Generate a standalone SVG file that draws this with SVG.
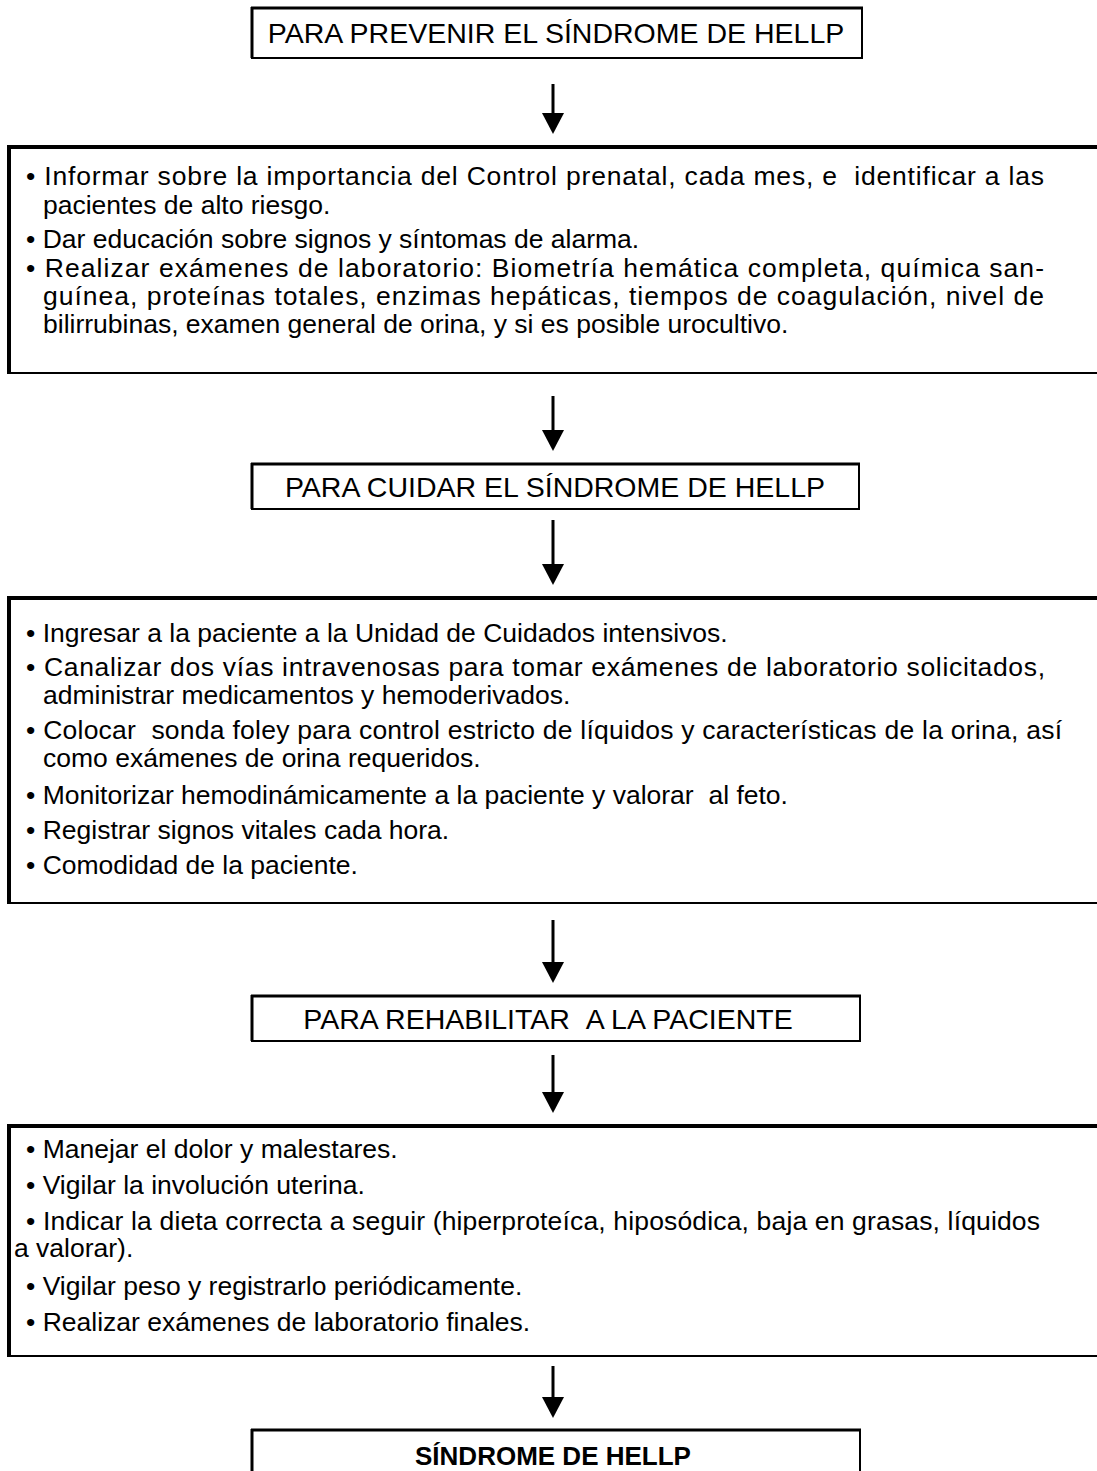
<svg xmlns="http://www.w3.org/2000/svg" width="1097" height="1471" viewBox="0 0 1097 1471">
<style>
.bg{fill:#fff}
.box{fill:#fff;stroke:#000;stroke-width:2}
.thk{stroke:#000;stroke-width:4;fill:none}
.thk2{stroke:#000;stroke-width:3;fill:none}
.t{font-family:"Liberation Sans",Arial,sans-serif;font-size:26.5px;fill:#000}
.h{font-family:"Liberation Sans",Arial,sans-serif;font-size:28.5px;fill:#000;text-anchor:middle}
.hb{font-family:"Liberation Sans",Arial,sans-serif;font-size:26px;font-weight:bold;fill:#000;text-anchor:middle}
.shaft{stroke:#000;stroke-width:3;fill:none}
.head{fill:#000}
</style>
<rect class="bg" x="0" y="0" width="1097" height="1471"/>

<g id="connectors">
  <line class="shaft" x1="553" y1="84" x2="553" y2="116"/><polygon class="head" points="542,113 564,113 553,134"/>
  <line class="shaft" x1="553" y1="396" x2="553" y2="433"/><polygon class="head" points="542,430 564,430 553,451"/>
  <line class="shaft" x1="553" y1="520" x2="553" y2="567"/><polygon class="head" points="542,564 564,564 553,585"/>
  <line class="shaft" x1="553" y1="920" x2="553" y2="965"/><polygon class="head" points="542,962 564,962 553,983"/>
  <line class="shaft" x1="553" y1="1055" x2="553" y2="1095"/><polygon class="head" points="542,1092 564,1092 553,1113"/>
  <line class="shaft" x1="553" y1="1366" x2="553" y2="1400"/><polygon class="head" points="542,1397 564,1397 553,1418"/>
</g>

<g id="prevenir">
  <rect class="box" x="252" y="8" width="610" height="50" stroke-width="1.5"/>
  <line class="thk2" x1="251" y1="8" x2="863" y2="8"/>
  <line class="thk2" x1="252" y1="7" x2="252" y2="58" stroke-width="2.5"/>
  <text class="h" x="556" y="43">PARA PREVENIR EL SÍNDROME DE HELLP</text>
</g>

<g id="prevenir-acciones">
  <rect class="box" x="9" y="147" width="1100" height="226"/>
  <line class="thk" x1="7" y1="147" x2="1097" y2="147"/>
  <line class="thk" x1="9" y1="145" x2="9" y2="374"/>
  <text class="t" x="26" y="185" textLength="1018" lengthAdjust="spacing">• Informar sobre la importancia del Control prenatal, cada mes, e &#160;identificar a las</text>
  <text class="t" x="43" y="214">pacientes de alto riesgo.</text>
  <text class="t" x="26" y="248">• Dar educación sobre signos y síntomas de alarma.</text>
  <text class="t" x="26" y="277" textLength="1018" lengthAdjust="spacing">• Realizar exámenes de laboratorio: Biometría hemática completa, química san-</text>
  <text class="t" x="43" y="305" textLength="1001" lengthAdjust="spacing">guínea, proteínas totales, enzimas hepáticas, tiempos de coagulación, nivel de</text>
  <text class="t" x="43" y="333">bilirrubinas, examen general de orina, y si es posible urocultivo.</text>
</g>

<g id="cuidar">
  <rect class="box" x="252" y="464" width="607" height="45" stroke-width="1.5"/>
  <line class="thk2" x1="251" y1="464" x2="860" y2="464"/>
  <line class="thk2" x1="252" y1="463" x2="252" y2="509" stroke-width="2.5"/>
  <text class="h" x="555" y="497">PARA CUIDAR EL SÍNDROME DE HELLP</text>
</g>

<g id="cuidar-acciones">
  <rect class="box" x="9" y="598" width="1100" height="305"/>
  <line class="thk" x1="7" y1="598" x2="1097" y2="598"/>
  <line class="thk" x1="9" y1="596" x2="9" y2="904"/>
  <text class="t" x="26" y="642">• Ingresar a la paciente a la Unidad de Cuidados intensivos.</text>
  <text class="t" x="26" y="676" textLength="1019" lengthAdjust="spacing">• Canalizar dos vías intravenosas para tomar exámenes de laboratorio solicitados,</text>
  <text class="t" x="43" y="704">administrar medicamentos y hemoderivados.</text>
  <text class="t" x="26" y="739" textLength="1036" lengthAdjust="spacing">• Colocar &#160;sonda foley para control estricto de líquidos y características de la orina, así</text>
  <text class="t" x="43" y="767">como exámenes de orina requeridos.</text>
  <text class="t" x="26" y="804">• Monitorizar hemodinámicamente a la paciente y valorar &#160;al feto.</text>
  <text class="t" x="26" y="839">• Registrar signos vitales cada hora.</text>
  <text class="t" x="26" y="874">• Comodidad de la paciente.</text>
</g>

<g id="rehabilitar">
  <rect class="box" x="252" y="996" width="608" height="45" stroke-width="1.5"/>
  <line class="thk2" x1="251" y1="996" x2="861" y2="996"/>
  <line class="thk2" x1="252" y1="995" x2="252" y2="1041" stroke-width="2.5"/>
  <text class="h" x="548" y="1029">PARA REHABILITAR &#160;A LA PACIENTE</text>
</g>

<g id="rehabilitar-acciones">
  <rect class="box" x="9" y="1126" width="1100" height="230"/>
  <line class="thk" x1="7" y1="1126" x2="1097" y2="1126"/>
  <line class="thk" x1="9" y1="1124" x2="9" y2="1357"/>
  <text class="t" x="26" y="1158">• Manejar el dolor y malestares.</text>
  <text class="t" x="26" y="1194">• Vigilar la involución uterina.</text>
  <text class="t" x="26" y="1230" textLength="1014" lengthAdjust="spacing">• Indicar la dieta correcta a seguir (hiperproteíca, hiposódica, baja en grasas, líquidos</text>
  <text class="t" x="14" y="1257">a valorar).</text>
  <text class="t" x="26" y="1295">• Vigilar peso y registrarlo periódicamente.</text>
  <text class="t" x="26" y="1331">• Realizar exámenes de laboratorio finales.</text>
</g>

<g id="sindrome">
  <rect class="box" x="252" y="1430" width="608" height="70" stroke-width="1.5"/>
  <line class="thk2" x1="251" y1="1430" x2="861" y2="1430"/>
  <line class="thk2" x1="252" y1="1429" x2="252" y2="1471" stroke-width="2.5"/>
  <text class="hb" x="553" y="1465">SÍNDROME DE HELLP</text>
</g>
</svg>
